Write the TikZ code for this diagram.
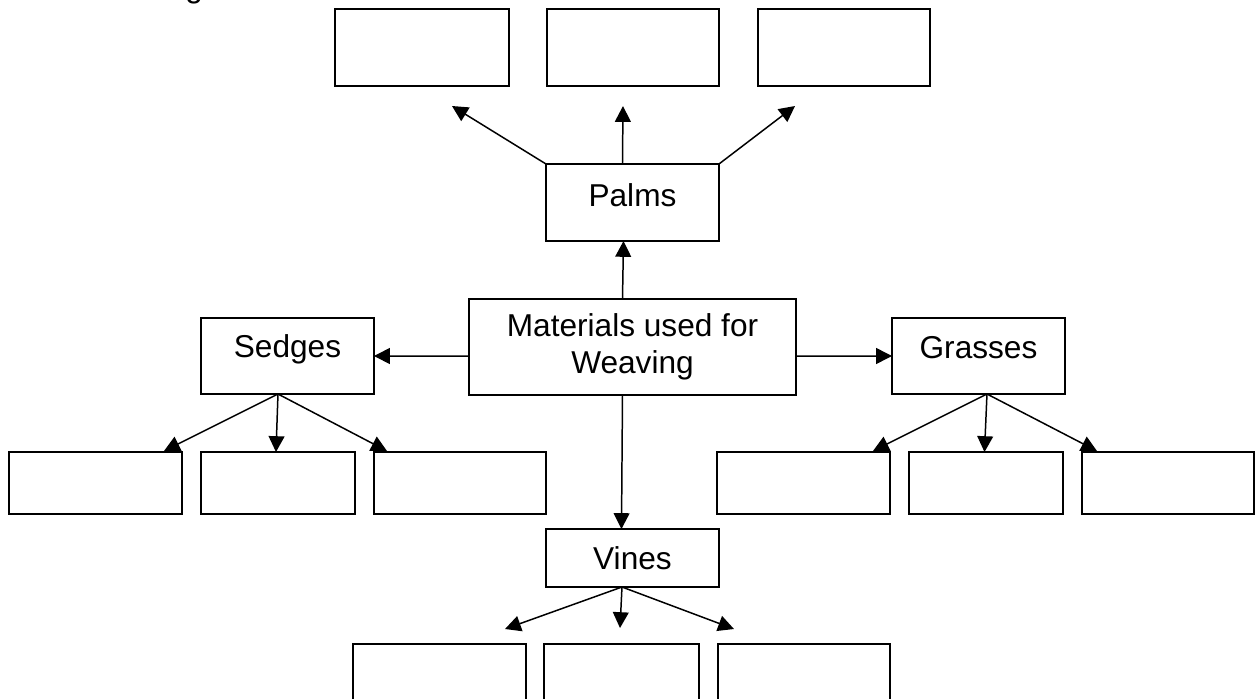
\documentclass[tikz,border=0pt]{standalone}
\usepackage{fontspec}
\setmainfont{Liberation Sans}
\usetikzlibrary{arrows.meta}
\begin{document}
\begin{tikzpicture}[x=0.02cm,y=-0.02cm,
  txt/.style={font=\fontsize{18pt}{21pt}\selectfont},
  box/.style={draw, line width=0.85pt, inner sep=0pt, outer sep=0pt, anchor=north west, txt},
  blank/.style={box, minimum height=1.24cm},
  topblank/.style={box, minimum height=1.54cm},
  conn/.style={line width=0.85pt, -{Triangle[length=9pt,width=9pt]}}]
\useasboundingbox (0,0) rectangle (1255,698);
\clip (0,0) rectangle (1255,698);

% cut-off fragment at top
\node[txt, anchor=base west, inner sep=0pt] (frag) at (185,-3) {g};

% top row (Palms children)
\node[topblank, minimum width=3.48cm] (t1) at (335,9) {};
\node[topblank, minimum width=3.44cm] (t2) at (547,9) {};
\node[topblank, minimum width=3.44cm] (t3) at (758,9) {};

% labelled boxes
\node[box, minimum width=3.46cm, text height=0.84cm, text depth=0.70cm] (palms) at (546,164) {Palms};
\node[box, anchor=center, align=center, minimum width=6.54cm, minimum height=1.92cm] (mat) at (632.5,347) {Materials used for\\Weaving};
\node[box, minimum width=3.46cm, text height=0.78cm, text depth=0.74cm] (sedges) at (201,318) {Sedges};
\node[box, minimum width=3.46cm, text height=0.80cm, text depth=0.72cm] (grasses) at (892,318) {Grasses};
\node[box, minimum width=3.46cm, text height=0.80cm, text depth=0.36cm] (vines) at (546,529) {Vines};

% Sedges children
\node[blank, minimum width=3.46cm] (s1) at (9,452) {};
\node[blank, minimum width=3.08cm] (s2) at (201,452) {};
\node[blank, minimum width=3.44cm] (s3) at (374,452) {};
% Grasses children
\node[blank, minimum width=3.46cm] (g1) at (717,452) {};
\node[blank, minimum width=3.08cm] (g2) at (909,452) {};
\node[blank, minimum width=3.44cm] (g3) at (1082,452) {};
% Vines children (cut off at bottom)
\node[box, minimum width=3.46cm, minimum height=1.6cm] (v1) at (353,644) {};
\node[box, minimum width=3.10cm, minimum height=1.6cm] (v2) at (544,644) {};
\node[box, minimum width=3.44cm, minimum height=1.6cm] (v3) at (718,644) {};

% free arrow ends
\coordinate (pt1) at (452,106);
\coordinate (pt2) at (623,106);
\coordinate (pt3) at (795,106);
\coordinate (vt1) at (505,629);
\coordinate (vt2) at (620,628);
\coordinate (vt3) at (734,629);

% connectors
\draw[conn] ([xshift=-0.2cm]mat.north) -- ([xshift=-0.18cm]palms.south);
\draw[conn] ([yshift=-0.18cm]mat.west) -- (sedges.east);
\draw[conn] ([yshift=-0.18cm]mat.east) -- (grasses.west);
\draw[conn] ([xshift=-0.2cm]mat.south) -- ([xshift=-0.22cm]vines.north);

\draw[conn] (palms.north west) -- (pt1);
\draw[conn] ([xshift=-0.2cm]palms.north) -- (pt2);
\draw[conn] (palms.north east) -- (pt3);

\draw[conn] ([xshift=-0.19cm]sedges.south) -- ([xshift=3.1cm,yshift=0.02cm]s1.north west);
\draw[conn] ([xshift=-0.19cm]sedges.south) -- ([xshift=-0.04cm]s2.north);
\draw[conn] ([xshift=-0.19cm]sedges.south) -- ([xshift=0.26cm,yshift=0.02cm]s3.north west);

\draw[conn] ([xshift=0.17cm]grasses.south) -- ([xshift=3.12cm,yshift=0.02cm]g1.north west);
\draw[conn] ([xshift=0.17cm]grasses.south) -- ([xshift=-0.03cm]g2.north);
\draw[conn] ([xshift=0.17cm]grasses.south) -- ([xshift=0.3cm,yshift=0.02cm]g3.north west);

\draw[conn] ([xshift=-0.21cm]vines.south) -- (vt1);
\draw[conn] ([xshift=-0.21cm]vines.south) -- (vt2);
\draw[conn] ([xshift=-0.21cm]vines.south) -- (vt3);
\end{tikzpicture}
\end{document}
